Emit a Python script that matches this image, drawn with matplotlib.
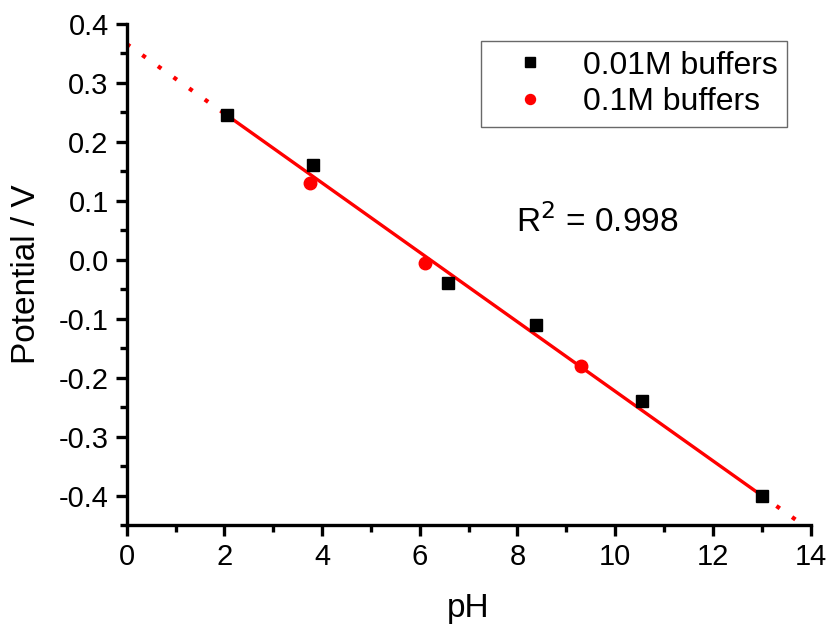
import matplotlib.pyplot as plt
import numpy as np

plt.rcParams['font.family'] = ['Liberation Sans', 'DejaVu Sans']

ph_001 = [2.05, 3.82, 6.57, 8.37, 10.55, 13.0]
pot_001 = [0.245, 0.16, -0.04, -0.11, -0.24, -0.40]
ph_01 = [3.75, 6.1, 9.3]
pot_01 = [0.13, -0.005, -0.18]

fit_slope = -0.0589
fit_intercept = 0.366

fig = plt.figure(figsize=(8.28, 6.29), dpi=100)
ax = fig.add_axes([0.153, 0.165, 0.826, 0.797])

# fitted line: solid over the data, dotted extrapolation at both ends
xs = np.array([min(ph_001), max(ph_001)])
ax.plot(xs, fit_intercept + fit_slope * xs, color='red', lw=2.4, zorder=2)
for xe in (np.array([0, min(ph_001)]), np.array([max(ph_001) + 0.3, 13.75])):
    ax.plot(xe, fit_intercept + fit_slope * xe, color='red', lw=3.0,
            ls=(0, (1.0, 3.6)), zorder=1)

ax.plot(ph_001, pot_001, 's', color='black', ms=9, label='0.01M buffers', zorder=3)
ax.plot(ph_01, pot_01, 'o', color='red', ms=9, label='0.1M buffers', zorder=3)

ax.set_xlim(0, 14)
ax.set_ylim(-0.45, 0.4)
ax.set_xticks(np.arange(0, 15, 2))
ax.set_xticks(np.arange(1, 14, 2), minor=True)
yt = np.round(np.arange(-0.4, 0.41, 0.1), 1)
ax.set_yticks(yt)
ax.set_yticks(np.arange(-0.45, 0.4, 0.1), minor=True)
ax.set_yticklabels(['%.1f' % (v + 0.0) for v in yt])

for s in ['top', 'right']:
    ax.spines[s].set_visible(False)
for s in ['left', 'bottom']:
    ax.spines[s].set_linewidth(2.4)
ax.tick_params(which='major', direction='out', length=8, width=2.4, labelsize=21, pad=5)
ax.tick_params(which='minor', direction='out', length=5, width=2.4)

ax.set_xlabel('pH', fontsize=24, labelpad=16)
ax.set_ylabel('Potential / V', fontsize=24, labelpad=12)

leg = ax.legend(loc='upper right', bbox_to_anchor=(0.966, 0.966), fontsize=23,
                frameon=True, fancybox=False, edgecolor='#444444',
                handlelength=2.5, handletextpad=0.4, borderpad=0.3,
                labelspacing=0.2, borderaxespad=0, markerscale=0.8)
leg.get_frame().set_linewidth(1.0)

ax.text(0.569, 0.585, 'R$^2$ = 0.998', transform=ax.transAxes, fontsize=24,
        va='baseline')

fig.savefig('out.png', dpi=100)
